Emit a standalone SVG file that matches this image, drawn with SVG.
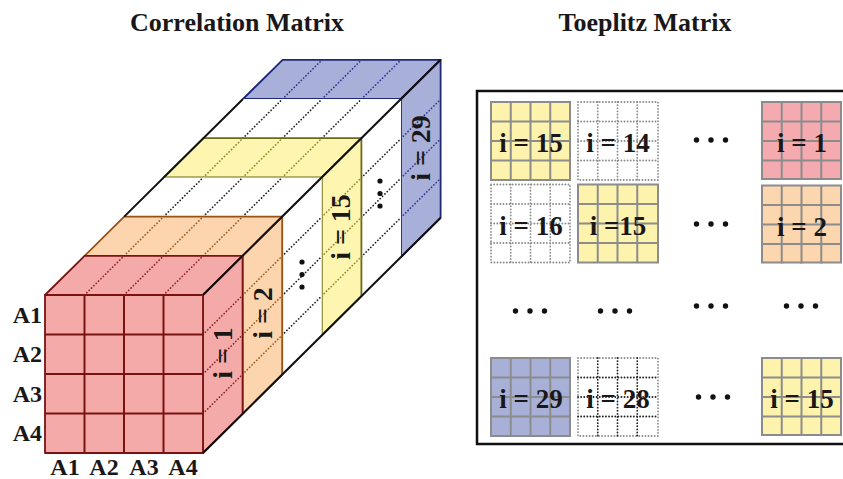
<svg xmlns="http://www.w3.org/2000/svg" width="843" height="479" viewBox="0 0 843 479">
<defs>
<style>
text{font-family:"Liberation Serif","Times New Roman",serif;font-weight:bold;fill:#1a1718}
.title{font-size:26px;text-anchor:middle}
.ax{font-size:24px}
.lbl{font-size:28px;text-anchor:middle}
.cl{font-size:27px;text-anchor:middle}
.dot{fill:#111}
.face{stroke-width:1.8;stroke-linejoin:round}
.dl{fill:none;stroke-width:1.7;stroke-dasharray:0.1 3.2;stroke-linecap:round}
.edge{fill:none;stroke:#111;stroke-width:2}
.red .face{fill:#f5aaaa;stroke:#7a1212}
.red .dl{stroke:#8a2020}
.org .face{fill:#fcd5ae;stroke:#9a5010}
.org .dl{stroke:#9a5a20}
.yel .face{fill:#fdf5b0;stroke:#6e6a18}
.yel .dl{stroke:#8f8a28}
.blu .face{fill:#a8afd8;stroke:#1f2878}
.blu .dl{stroke:#2a3590}
.wht .face{fill:#fff;stroke:none}
.wht .dl{stroke:#222}
.cbg{stroke:#8c8c8c;stroke-width:2}
.cg{fill:none;stroke:#8c8c8c;stroke-width:2}
.cd{fill:none;stroke:#8c8c8c;stroke-width:1.8;stroke-dasharray:0.1 3;stroke-linecap:round}
.cdk{fill:none;stroke:#222;stroke-width:1.8;stroke-dasharray:0.1 3;stroke-linecap:round}
.cy{fill:#fdf3ad}.cr{fill:#f5aab0}.co{fill:#fcd6ae}.cb{fill:#a8b0d8}
</style>
<path id="grid" d="M19.75,0V78M39.5,0V78M59.25,0V78M0,19.5H79M0,39H79M0,58.5H79"/>
<g id="dots3"><circle cx="-14.5" cy="0" r="2.7"/><circle cx="0" cy="0" r="2.7"/><circle cx="14.5" cy="0" r="2.7"/></g>
<g id="vdots"><circle cx="0" cy="-12.5" r="2.6"/><circle cx="0" cy="0" r="2.6"/><circle cx="0" cy="12.5" r="2.6"/></g>
</defs>

<text class="title" x="237" y="31">Correlation Matrix</text>
<text class="title" x="645" y="31">Toeplitz Matrix</text>

<g id="cube">
<g id="slice-29" class="blu" transform="translate(198,-196)">
<path class="face" d="M45,295 L84.6,255.8 L242.6,255.8 L203,295 Z"/>
<path class="face" d="M203,295 L242.6,255.8 L242.6,413.8 L203,453 Z"/>
<path class="dl" d="M84.5,295 l39.6,-39.2 M124,295 l39.6,-39.2 M163.5,295 l39.6,-39.2 M203,334.5 l39.6,-39.2 M203,374 l39.6,-39.2 M203,413.5 l39.6,-39.2"/>
</g>
<g id="slice-w2" class="wht" transform="translate(158.4,-156.8)">
<path class="face" d="M45,295 L84.6,255.8 L242.6,255.8 L203,295 Z"/>
<path class="face" d="M203,295 L242.6,255.8 L242.6,413.8 L203,453 Z"/>
<path class="dl" d="M84.5,295 l39.6,-39.2 M124,295 l39.6,-39.2 M163.5,295 l39.6,-39.2 M203,334.5 l39.6,-39.2 M203,374 l39.6,-39.2 M203,413.5 l39.6,-39.2"/>
</g>
<g id="slice-15" class="yel" transform="translate(118.8,-117.6)">
<path class="face" d="M45,295 L84.6,255.8 L242.6,255.8 L203,295 Z"/>
<path class="face" d="M203,295 L242.6,255.8 L242.6,413.8 L203,453 Z"/>
<path class="dl" d="M84.5,295 l39.6,-39.2 M124,295 l39.6,-39.2 M163.5,295 l39.6,-39.2 M203,334.5 l39.6,-39.2 M203,374 l39.6,-39.2 M203,413.5 l39.6,-39.2"/>
</g>
<g id="slice-w1" class="wht" transform="translate(79.2,-78.4)">
<path class="face" d="M45,295 L84.6,255.8 L242.6,255.8 L203,295 Z"/>
<path class="face" d="M203,295 L242.6,255.8 L242.6,413.8 L203,453 Z"/>
<path class="dl" d="M84.5,295 l39.6,-39.2 M124,295 l39.6,-39.2 M163.5,295 l39.6,-39.2 M203,334.5 l39.6,-39.2 M203,374 l39.6,-39.2 M203,413.5 l39.6,-39.2"/>
</g>
<g id="slice-2" class="org" transform="translate(39.6,-39.2)">
<path class="face" d="M45,295 L84.6,255.8 L242.6,255.8 L203,295 Z"/>
<path class="face" d="M203,295 L242.6,255.8 L242.6,413.8 L203,453 Z"/>
<path class="dl" d="M84.5,295 l39.6,-39.2 M124,295 l39.6,-39.2 M163.5,295 l39.6,-39.2 M203,334.5 l39.6,-39.2 M203,374 l39.6,-39.2 M203,413.5 l39.6,-39.2"/>
</g>
<g id="slice-1" class="red">
<path class="face" d="M45,295 L84.6,255.8 L242.6,255.8 L203,295 Z"/>
<path class="face" d="M203,295 L242.6,255.8 L242.6,413.8 L203,453 Z"/>
<path class="dl" d="M84.5,295 l39.6,-39.2 M124,295 l39.6,-39.2 M163.5,295 l39.6,-39.2 M203,334.5 l39.6,-39.2 M203,374 l39.6,-39.2 M203,413.5 l39.6,-39.2"/>
<rect class="face" x="45" y="295" width="158" height="158" stroke-width="2"/>
<path d="M84.5,295V453M124,295V453M163.5,295V453M45,334.5H203M45,374H203M45,413.5H203" fill="none" stroke="#7a1212" stroke-width="2"/>
</g>
<path class="edge" d="M203,295 L440.6,59.8 M203,453 L440.6,217.8 M124.2,216.6 L243,99"/>
<use href="#vdots" x="302" y="274.5" class="dot"/>
<use href="#vdots" x="380" y="193.5" class="dot"/>
<text class="lbl" transform="translate(223,353) rotate(-90)" y="9">i = 1</text>
<text class="lbl" transform="translate(263,313) rotate(-90)" y="9">i = 2</text>
<text class="lbl" transform="translate(341,227) rotate(-90)" y="9">i = 15</text>
<text class="lbl" transform="translate(421,148) rotate(-90)" y="9">i = 29</text>
<text class="ax" x="42" y="323" text-anchor="end">A1</text>
<text class="ax" x="42" y="362" text-anchor="end">A2</text>
<text class="ax" x="42" y="402" text-anchor="end">A3</text>
<text class="ax" x="42" y="441" text-anchor="end">A4</text>
<text class="ax" x="65" y="475" text-anchor="middle">A1</text>
<text class="ax" x="104" y="475" text-anchor="middle">A2</text>
<text class="ax" x="144" y="475" text-anchor="middle">A3</text>
<text class="ax" x="183" y="475" text-anchor="middle">A4</text>
</g>

<g id="toeplitz">
<path d="M850,91 H477 V444 H850" fill="none" stroke="#111" stroke-width="2.5"/>
<g id="c11" transform="translate(491,102)"><rect class="cbg cy" width="79" height="78"/><use href="#grid" class="cg"/><text class="cl" x="40" y="50">i = 15</text></g>
<g id="c12" transform="translate(578,102)"><rect class="cd" width="80" height="78"/><use href="#grid" class="cd"/><text class="cl" x="40" y="50">i = 14</text></g>
<use href="#dots3" x="711" y="140" class="dot"/>
<g id="c14" transform="translate(762,102)"><rect class="cbg cr" width="79" height="77"/><use href="#grid" class="cg"/><text class="cl" x="40" y="50">i = 1</text></g>

<g id="c21" transform="translate(491,184.5)"><rect class="cd" width="79" height="78"/><use href="#grid" class="cd"/><text class="cl" x="40" y="50">i = 16</text></g>
<g id="c22" transform="translate(578,184.5)"><rect class="cbg cy" width="80" height="78"/><use href="#grid" class="cg"/><text class="cl" x="40" y="50">i =15</text></g>
<use href="#dots3" x="711" y="224" class="dot"/>
<g id="c24" transform="translate(762,185.5)"><rect class="cbg co" width="79" height="77"/><use href="#grid" class="cg"/><text class="cl" x="40" y="50">i = 2</text></g>

<use href="#dots3" x="530" y="311" class="dot"/>
<use href="#dots3" x="615" y="311" class="dot"/>
<use href="#dots3" x="711" y="306" class="dot"/>
<use href="#dots3" x="801" y="306" class="dot"/>

<g id="c41" transform="translate(491,358)"><rect class="cbg cb" width="79" height="78"/><use href="#grid" class="cg"/><text class="cl" x="40" y="50">i = 29</text></g>
<g id="c42" transform="translate(578,358)"><rect class="cd" width="80" height="78"/><text class="cl" x="40" y="50">i = 28</text><use href="#grid" class="cdk"/></g>
<use href="#dots3" x="713" y="397" class="dot"/>
<g id="c44" transform="translate(762,358)"><rect class="cbg cy" width="79" height="77"/><use href="#grid" class="cg"/><text class="cl" x="40" y="50">i = 15</text></g>
</g>
</svg>
